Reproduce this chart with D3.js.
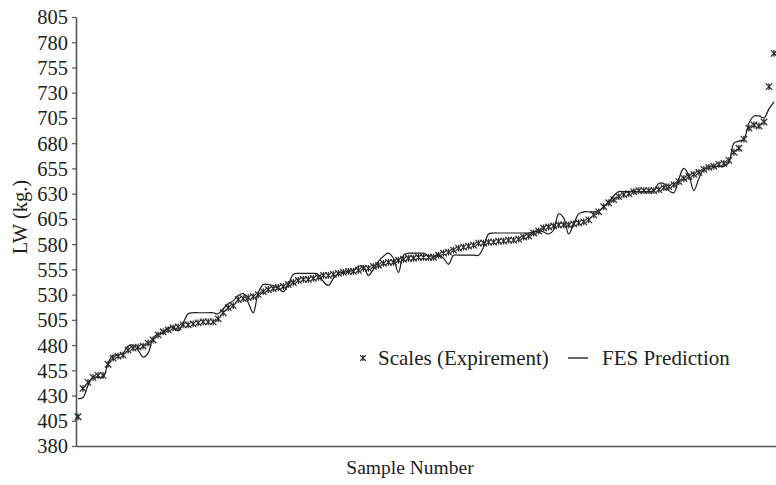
<!DOCTYPE html>
<html>
<head>
<meta charset="utf-8">
<script src="https://cdn.jsdelivr.net/npm/d3@7/dist/d3.min.js"></script>
<style>
  html, body { margin: 0; padding: 0; background: #fff; }
  svg { display: block; }
</style>
</head>
<body>
<svg id="chart" width="776" height="485"></svg>
<script>
// ---- data ----
const scalesValues = [
  409, 437, 443, 448, 450, 450, 461, 467, 469, 470,
  475, 477, 478, 479, 482, 485, 490, 493, 495, 497,
  498, 500, 500, 501, 502, 503, 503, 503, 506, 512,
  517, 519, 525, 526, 527, 528, 530, 533, 535, 536,
  537, 538, 540, 542, 544, 545, 545, 546, 547, 549,
  549, 550, 551, 552, 553, 553, 554, 556, 556, 558,
  559, 561, 562, 562, 564, 565, 566, 566, 567, 567,
  567, 567, 569, 571, 572, 574, 576, 577, 578, 579,
  581, 581, 582, 582, 583, 583, 584, 584, 585, 587,
  588, 591, 593, 596, 597, 598, 599, 599, 599, 600,
  601, 602, 604, 609, 612, 617, 621, 624, 627, 629,
  630, 632, 633, 633, 633, 633, 634, 636, 637, 639,
  642, 645, 647, 649, 651, 654, 656, 657, 659, 660,
  663, 671, 675, 684, 695, 698, 697, 701, 736, 769
];
const fesValues = [
  427, 428, 440, 448, 448, 448, 462, 470, 470, 472,
  479, 480, 475, 468, 472, 487, 491, 492, 497, 498,
  494, 502, 511, 512, 512, 512, 512, 512, 511, 516,
  521, 524, 529, 531, 522, 512, 532, 540, 540, 539,
  536, 533, 540, 550, 551, 551, 551, 551, 550, 543,
  539, 546, 551, 552, 553, 554, 558, 558, 549, 555,
  563, 568, 571, 566, 552, 569, 571, 571, 571, 571,
  568, 567, 569, 566, 560, 569, 569, 569, 569, 569,
  569, 577, 590, 591, 591, 591, 591, 591, 591, 591,
  591, 592, 593, 592, 590, 594, 610, 606, 590, 600,
  610, 612, 612, 612, 613, 617, 622, 628, 632, 632,
  632, 632, 632, 632, 632, 633, 640, 640, 633, 631,
  645, 655, 648, 633, 645, 654, 656, 657, 657, 657,
  661, 680, 682, 684, 700, 707, 707, 705, 714, 721
];
const sampleNumbers = d3.range(1, scalesValues.length + 1);
const yTicks = [380, 405, 430, 455, 480, 505, 530, 555, 580, 605, 630, 655, 680, 705, 730, 755, 780, 805];
const legendLabels = ["Scales (Expirement)", "FES Prediction"];
const axisLabels = { x: "Sample Number", y: "LW (kg.)" };

// ---- layout ----
const FONT = '"Liberation Serif", "Times New Roman", Tinos, serif';
const svg = d3.select("#chart");
const mLeft = 76, mRight = 776, mTop = 17, mBottom = 446;

const x = d3.scaleLinear().domain([0.6, sampleNumbers.length + 0.4]).range([mLeft, mRight]);
const y = d3.scaleLinear().domain([380, 805]).range([mBottom, mTop]);

// axes
const yAxis = d3.axisLeft(y).tickValues(yTicks).tickSize(4).tickSizeOuter(0).tickPadding(4);
const gy = svg.append("g").attr("transform", `translate(${mLeft},0)`).call(yAxis);
gy.attr("font-family", null).attr("font-size", null);
gy.select(".domain").attr("stroke", "#555").attr("stroke-width", 1.6);
gy.selectAll(".tick line").attr("stroke", "#555").attr("stroke-width", 1.2);
gy.selectAll(".tick text")
  .style("font-family", FONT).style("font-size", "20.5px")
  .attr("fill", "#222").attr("dy", "0.34em");

const xAxis = d3.axisBottom(x).tickValues([]).tickSizeOuter(0);
const gx = svg.append("g").attr("transform", `translate(0,${mBottom})`).call(xAxis);
gx.select(".domain").attr("stroke", "#555").attr("stroke-width", 1.6);

// axis titles
svg.append("text")
  .attr("x", 410).attr("y", 474)
  .attr("text-anchor", "middle")
  .style("font-family", FONT).style("font-size", "19.5px").attr("fill", "#222")
  .text(axisLabels.x);
svg.append("text")
  .attr("transform", `translate(27,217) rotate(-90)`)
  .attr("text-anchor", "middle")
  .style("font-family", FONT).style("font-size", "20.5px").attr("fill", "#222")
  .text(axisLabels.y);

// FES prediction line
const line = d3.line()
  .x((d, i) => x(sampleNumbers[i]))
  .y(d => y(d))
  .curve(d3.curveCatmullRom.alpha(0.5));
svg.append("path")
  .datum(fesValues)
  .attr("d", line)
  .attr("fill", "none")
  .attr("stroke", "#1a1a1a")
  .attr("stroke-width", 1.2);

// asterisk marker
function starPath(r) {
  const a = r * 0.85, b = r * 0.85;
  return `M0,${-r * 0.9}L0,${r * 0.9}M${-a},${-b}L${a},${b}M${-a},${b}L${a},${-b}`;
}
svg.append("g")
  .selectAll("path")
  .data(scalesValues)
  .join("path")
  .attr("transform", (d, i) => `translate(${x(sampleNumbers[i])},${y(d)})`)
  .attr("d", starPath(3.8))
  .attr("stroke", "#2a2a2a")
  .attr("stroke-width", 1.2)
  .attr("fill", "none");

// legend
const lg = svg.append("g");
lg.append("path")
  .attr("transform", "translate(363,358)")
  .attr("d", starPath(3.4))
  .attr("stroke", "#2a2a2a").attr("stroke-width", 1.2);
lg.append("text").attr("x", 378).attr("y", 365)
  .style("font-family", FONT).style("font-size", "21px").attr("fill", "#222")
  .text(legendLabels[0]);
lg.append("line").attr("x1", 568).attr("x2", 588).attr("y1", 358).attr("y2", 358)
  .attr("stroke", "#1a1a1a").attr("stroke-width", 1.3);
lg.append("text").attr("x", 602).attr("y", 365)
  .style("font-family", FONT).style("font-size", "21px").attr("fill", "#222")
  .text(legendLabels[1]);
</script>
</body>
</html>
